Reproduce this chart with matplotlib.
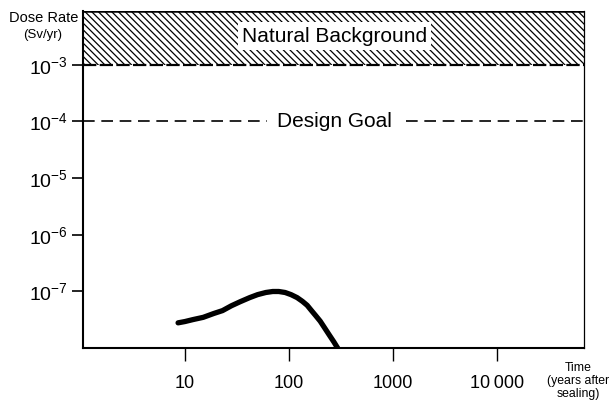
import matplotlib
matplotlib.use("Agg")
import matplotlib.pyplot as plt
import matplotlib.patches as mpatches

plt.rcParams['font.family'] = ['Liberation Sans', 'DejaVu Sans']
plt.rcParams['mathtext.fontset'] = 'custom'
plt.rcParams['mathtext.rm'] = 'Liberation Sans'
plt.rcParams['hatch.linewidth'] = 0.9

# dose rate curve (years after sealing, Sv/yr)
years = [8.6, 10, 12, 15, 19, 23, 28, 34, 42, 50, 60, 70, 80, 92, 105,
         120, 135, 150, 165, 180, 200, 220, 245, 270, 295]
dose = [2.8e-8, 2.95e-8, 3.2e-8, 3.5e-8, 4.1e-8, 4.6e-8, 5.6e-8, 6.6e-8,
        7.8e-8, 8.8e-8, 9.6e-8, 1.0e-7, 1.0e-7, 9.6e-8, 8.8e-8, 7.8e-8,
        6.7e-8, 5.7e-8, 4.6e-8, 3.8e-8, 3.0e-8, 2.3e-8, 1.7e-8, 1.3e-8, 1.0e-8]

x_ticks = [10, 100, 1000, 10000]
x_labels = ["10", "100", "1000", "10\u2009000"]
y_ticks = [1e-3, 1e-4, 1e-5, 1e-6, 1e-7]
y_labels = [r"$\mathregular{10^{-%d}}$" % k for k in range(3, 8)]

natural_background = 1e-3
design_goal = 1e-4

fig = plt.figure(figsize=(6.11, 4.03), dpi=100)
ax = fig.add_axes([0.136, 0.136, 0.820, 0.837])
ax.set_xscale('log')
ax.set_yscale('log')
xmin, xmax = 1.05, 6.9e4
ymin, ymax = 1e-8, 8.9e-3
ax.set_xlim(xmin, xmax)
ax.set_ylim(ymin, ymax)

# hatched natural background band
band = mpatches.Rectangle((xmin, natural_background), xmax - xmin, ymax - natural_background,
                          facecolor='white', edgecolor='black', hatch='\\\\\\\\\\',
                          linewidth=0)
ax.add_patch(band)
ax.axhline(natural_background, color='black', lw=1.6, ls=(0, (6, 1.5)))
ax.axhline(ymax, color='black', lw=1.8)
ax.text(275, 3.2e-3, "Natural Background", fontsize=15, ha='center', va='center',
        bbox=dict(facecolor='white', edgecolor='none', pad=3))

# design goal line
ax.plot([xmin, 61], [design_goal, design_goal], color='black', lw=1.2, ls=(0, (7, 4)))
ax.plot([1350, xmax], [design_goal, design_goal], color='black', lw=1.2, ls=(0, (7, 4)))
ax.text(275, design_goal, "Design Goal", fontsize=15, ha='center', va='center')

ax.plot(years, dose, color='black', lw=3.8, solid_capstyle='round',
        solid_joinstyle='round')

ax.set_xticks(x_ticks)
ax.set_xticklabels(x_labels, fontsize=13)
ax.set_yticks(y_ticks)
ax.set_yticklabels(y_labels, fontsize=14)
ax.minorticks_off()
ax.tick_params(axis='x', direction='out', length=9, width=1, pad=10)
ax.tick_params(axis='y', direction='out', length=8, width=1.2, pad=3)

for s in ['left', 'bottom']:
    ax.spines[s].set_linewidth(1.5)
ax.spines['right'].set_linewidth(0.9)
ax.spines['top'].set_visible(False)

fig.text(44 / 611, 1 - 18 / 403, "Dose Rate", fontsize=10.5, ha='center', va='center')
fig.text(43 / 611, 1 - 35 / 403, "(Sv/yr)", fontsize=9.5, ha='center', va='center')
fig.text(578 / 611, 1 - 381 / 403, "Time\n(years after\nsealing)", fontsize=8.8,
         ha='center', va='center', linespacing=1.15)

fig.savefig("out.png", dpi=100)
